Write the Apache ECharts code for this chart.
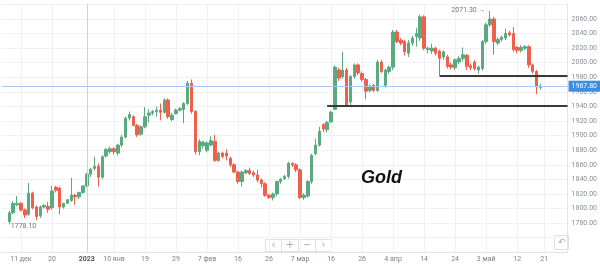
<!DOCTYPE html>
<html><head><meta charset="utf-8">
<script src="https://cdn.jsdelivr.net/npm/echarts@6/dist/echarts.min.js"></script>
<style>html,body{margin:0;padding:0;background:#fff}#c{width:600px;height:267px}</style>
</head><body><div id="c"></div><script>
const dates = ['12-05','12-06','12-07','12-08','12-09','12-11','12-12','12-13','12-14','12-15','12-16','12-18','12-19','12-20','12-21','12-22','12-23','12-26','12-27','12-28','12-29','12-30',
'01-02','01-03','01-04','01-05','01-06','01-08','01-09','01-10','01-11','01-12','01-13','01-15','01-16','01-17','01-18','01-19','01-20','01-22','01-23','01-24','01-25','01-26','01-27','01-29','01-30','01-31',
'02-01','02-02','02-03','02-05','02-06','02-07','02-08','02-09','02-10','02-12','02-13','02-14','02-15','02-16','02-17','02-19','02-20','02-21','02-22','02-23','02-24','02-26','02-27','02-28',
'03-01','03-02','03-03','03-05','03-06','03-07','03-08','03-09','03-10','03-12','03-13','03-14','03-15','03-16','03-17','03-19','03-20','03-21','03-22','03-23','03-24','03-26','03-27','03-28','03-29','03-30','03-31',
'04-02','04-03','04-04','04-05','04-06','04-09','04-10','04-11','04-12','04-13','04-14','04-16','04-17','04-18','04-19','04-20','04-21','04-23','04-24','04-25','04-26','04-27','04-28','04-30',
'05-01','05-02','05-03','05-04','05-05','05-07','05-08','05-09','05-10','05-11','05-12','05-14','05-15','05-16','05-17','05-18','05-19','05-21','05-22','05-23','05-24','05-25','05-26','05-28'];

const tickDates = ['12-11','12-20','01-02','01-10','01-19','01-29','02-07','02-16','02-26','03-07','03-16','03-26','04-04','04-14','04-24','05-03','05-12','05-21'];
const tickText  = ['11 дек','20','2023','10 янв','19','29','7 фев','16','26','7 мар','16','26','4 апр','14','24','3 май','12','21'];

const firstCandle = '12-07';
const opens = [
1782,1794,1805,1807,1798,1792,1821,1802,1790,1802,
1803,1801,1829,1828,1802,1807,1811,1818,1816,1822,
1831,1847,1855,1858,1843,1872,1878,1882,1876,1887,
1898,1924,1926,1914,1902,1912,1928,1931,1933,1935,
1932,1949,1922,1930,1935,1936,1944,1972,1933,1878,
1886,1880,1887,1892,1866,1876,1876,1869,1860,1850,
1837,1849,1852,1849,1846,1839,1834,1818,1815,1820,
1837,1841,1844,1862,1860,1853,1815,1817,1837,1875,
1887,1915,1908,1919,1936,1990,1981,1990,1946,1981,
1997,1985,1977,1962,1969,1962,2001,1969,1988,1994,
2042,2031,2029,2013,2027,2036,2034,2063,2018,2016,
2020,2016,2008,2008,1997,1993,2001,2006,2010,1996,
2001,1990,1992,2029,2052,2060,2027,2032,2034,2041,
2040,2021,2017,2020,2022,1997,1988,1966];
const closes = [
1794,1807,1807,1798,1791,1821,1801,1789,1802,1804,
1799,1824,1825,1802,1807,1812,1818,1816,1822,1831,
1847,1854,1858,1843,1871,1881,1882,1878,1887,1898,
1924,1929,1914,1901,1912,1926,1931,1933,1935,1932,
1949,1926,1928,1935,1937,1944,1972,1933,1878,1892,
1891,1890,1893,1866,1876,1871,1872,1860,1850,1837,
1850,1852,1848,1846,1839,1834,1818,1815,1820,1837,
1840,1844,1862,1860,1853,1815,1818,1837,1873,1887,
1906,1909,1918,1932,1994,1979,1990,1942,1981,1997,
1986,1977,1961,1968,1962,2001,1988,1990,1994,2042,
2029,2027,2015,2027,2034,2040,2063,2020,2020,2020,
2013,2006,2015,1995,1994,2004,2006,2011,1995,1993,
1992,1994,2029,2052,2060,2029,2032,2035,2040,2038,
2018,2017,2021,2022,1997,1988,1968,1967.8];
const lows = [
1778.1,1792,1803,1796,1787,1790,1799,1784,1787,1800,
1794,1798,1822,1792,1800,1806,1809,1805,1813,1820,
1829,1843,1852,1830,1840,1870,1875,1874,1873,1884,
1896,1921,1913,1898,1900,1910,1918,1928,1926,1921,
1930,1923,1920,1929,1933,1917,1942,1930,1874,1873,
1882,1877,1885,1864,1864,1869,1866,1857,1848,1834,
1830,1847,1846,1843,1836,1829,1816,1813,1811,1817,
1834,1839,1841,1857,1850,1813,1812,1815,1834,1873,
1885,1905,1904,1917,1935,1975,1978,1941,1942,1978,
1983,1974,1950,1959,1960,1960,1986,1966,1985,1990,
2027,2024,2010,2008,2023,2022,2030,2017,2013,2012,
2010,1982,2004,1992,1991,1990,1998,2002,1990,1990,
1989,1985,1989,2026,2049,2011,2024,2029,2031,2036,
2015,2013,2014,2017,1993,1985,1957,1963];
const highs = [
1797,1810,1817,1809,1800,1835,1823,1804,1804,1806,
1809,1831,1831,1830,1808,1813,1842,1820,1823,1832,
1849,1856,1871,1862,1873,1883,1885,1884,1889,1901,
1926,1933,1928,1916,1914,1939,1936,1935,1940,1944,
1951,1951,1931,1937,1939,1946,1975,1977,1935,1895,
1893,1892,1899,1901,1878,1878,1881,1871,1862,1852,
1852,1854,1856,1852,1853,1841,1836,1820,1822,1838,
1842,1846,1864,1863,1862,1855,1821,1839,1875,1896,
1912,1917,1920,1934,1996,1993,2015,1993,1983,1999,
1999,1988,1979,1970,1971,2004,2004,1992,1996,2045,
2045,2034,2031,2031,2037,2048,2066,2065,2022,2026,
2022,2018,2017,2011,2000,2006,2009,2021,2012,1999,
2004,1996,2031,2055,2071.3,2063,2035,2037,2047,2044,
2049,2023,2024,2024,2024,1999,1990,1971];

const lastPrice = 1967.80;
const lowLevel = 1941, lowLevelFrom = '03-15';
const highLevel = 1982, highLevelFrom = '04-19';
const yearStart = '01-02';
const minPoint = ['12-07', 1778.10];
const maxPoint = ['05-04', 2071.30];
const title = 'Gold';

const start = dates.indexOf(firstCandle);
const candleData = dates.map((d, i) => {
  const k = i - start;
  return (k >= 0 && k < opens.length) ? [opens[k], closes[k], lows[k], highs[k]] : '-';
});
const lastDate = dates[dates.length - 1];
const showTick = (i, v) => tickDates.indexOf(v) >= 0;

const chart = echarts.init(document.getElementById('c'), null, {renderer: 'canvas'});
const GREEN = '#5aa97f', RED = '#ee5f4c';
chart.setOption({
  animation: false,
  backgroundColor: '#fff',
  grid: {left: 1.54, right: 32, top: 4.43, bottom: 14.8, containLabel: false},
  xAxis: {
    type: 'category', data: dates, boundaryGap: false,
    axisLine: {show: true, lineStyle: {color: '#e2e4e8'}},
    axisTick: {show: false},
    axisLabel: {
      interval: showTick, fontSize: 7, color: '#7a7f87', margin: 4, fontFamily: 'Roboto',
      formatter: v => { const j = tickDates.indexOf(v); if (j < 0) return ''; const t = tickText[j]; return /^\d{4}$/.test(t) ? '{b|' + t + '}' : t; },
      rich: {b: {fontSize: 7, fontWeight: 'bold', color: '#555', fontFamily: 'Roboto'}}
    },
    splitLine: {show: true, interval: showTick, lineStyle: {color: '#eff1f4', width: 1}}
  },
  yAxis: {
    type: 'value', position: 'right', min: 1740, max: 2080, interval: 20,
    axisLine: {show: true, lineStyle: {color: '#e2e4e8'}},
    axisTick: {show: false},
    axisLabel: {fontSize: 7, color: '#8a8f97', margin: 4, fontFamily: 'Roboto',
      formatter: v => (v >= 1780 && v <= 2060) ? v.toFixed(2) : ''},
    splitLine: {show: true, lineStyle: {color: '#eff1f4', width: 1}}
  },
  series: [{
    type: 'candlestick', data: candleData, barWidth: 3,
    itemStyle: {color: GREEN, color0: RED, borderColor: GREEN, borderColor0: RED, borderWidth: 1},
    markLine: {
      silent: true, symbol: ['none', 'none'], animation: false,
      label: {show: false},
      data: [
        {xAxis: yearStart, lineStyle: {color: '#cdd1d6', width: 1, type: 'solid'}},
        [{coord: [lowLevelFrom, lowLevel], lineStyle: {color: '#3a3a3a', width: 2, type: 'solid'}}, {coord: [lastDate, lowLevel]}],
        [{coord: [highLevelFrom, highLevel], lineStyle: {color: '#3a3a3a', width: 2, type: 'solid'}}, {coord: [lastDate, highLevel]}],
        {yAxis: lastPrice, lineStyle: {color: '#a9c9ec', width: 1, type: 'solid'},
          label: {show: true, position: 'end', distance: 1, formatter: lastPrice.toFixed(2),
            backgroundColor: '#3d8de0', color: '#fff', fontSize: 7, padding: [2, 3, 2, 3], fontFamily: 'Roboto'}}
      ]
    },
    markPoint: {
      silent: true, symbol: 'circle', symbolSize: 1, itemStyle: {color: 'rgba(0,0,0,0)'},
      data: [
        {coord: minPoint, label: {show: true, position: 'right', distance: 1, offset: [0, 2], formatter: minPoint[1].toFixed(2), color: '#6f747c', fontSize: 7, fontFamily: 'Roboto'}},
        {coord: maxPoint, label: {show: true, position: 'left', distance: 4, offset: [0, -1], formatter: maxPoint[1].toFixed(2) + ' →', color: '#6f747c', fontSize: 7, fontFamily: 'Roboto'}}
      ]
    }
  }],
  graphic: [
    {type: 'text', left: 361, top: 169, z: 100, style: {text: title, font: 'italic bold 18px "Liberation Sans"', fill: '#111'}},
    {type: 'group', left: 265, top: 239, children: [
      {type: 'rect', shape: {x: 0, y: 0, width: 16, height: 12}, style: {fill: '#fff', stroke: '#dde0e5', lineWidth: 1}},
      {type: 'rect', shape: {x: 16, y: 0, width: 17, height: 12}, style: {fill: '#fff', stroke: '#dde0e5', lineWidth: 1}},
      {type: 'rect', shape: {x: 33, y: 0, width: 17, height: 12}, style: {fill: '#fff', stroke: '#dde0e5', lineWidth: 1}},
      {type: 'rect', shape: {x: 50, y: 0, width: 16, height: 12}, style: {fill: '#fff', stroke: '#dde0e5', lineWidth: 1}},
      {type: 'text', x: 8, y: 6, style: {text: '‹', font: '10px "DejaVu Sans"', fill: '#a6abb2', align: 'center', verticalAlign: 'middle'}},
      {type: 'text', x: 24.5, y: 6, style: {text: '+', font: '10px "DejaVu Sans"', fill: '#a6abb2', align: 'center', verticalAlign: 'middle'}},
      {type: 'text', x: 41.5, y: 6, style: {text: '−', font: '10px "DejaVu Sans"', fill: '#a6abb2', align: 'center', verticalAlign: 'middle'}},
      {type: 'text', x: 58, y: 6, style: {text: '›', font: '10px "DejaVu Sans"', fill: '#a6abb2', align: 'center', verticalAlign: 'middle'}}
    ]},
    {type: 'group', left: 554, top: 235, children: [
      {type: 'rect', shape: {x: 0, y: 0, width: 14, height: 14}, style: {fill: '#fff', stroke: '#dde0e5', lineWidth: 1}},
      {type: 'text', x: 7, y: 7, style: {text: '↶', font: '9px "DejaVu Sans"', fill: '#a6abb2', align: 'center', verticalAlign: 'middle'}}
    ]}
  ]
});
</script></body></html>
